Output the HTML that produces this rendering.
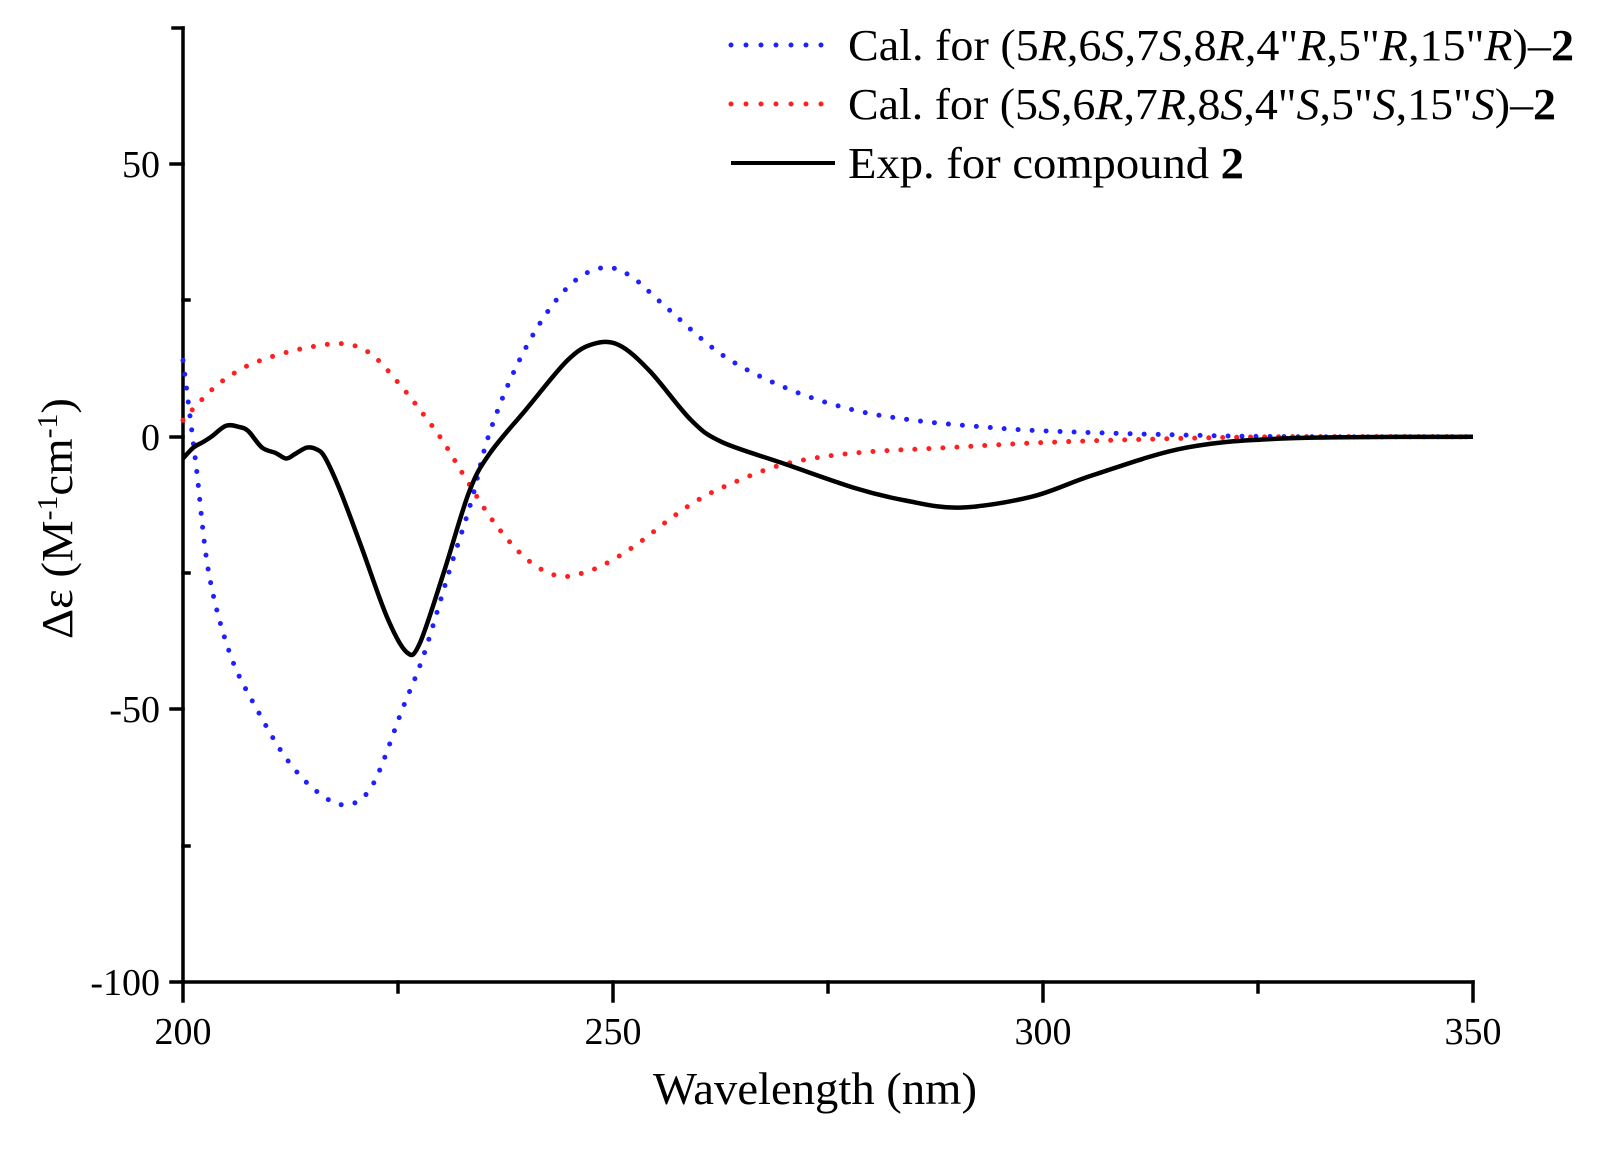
<!DOCTYPE html>
<html><head><meta charset="utf-8"><style>
html,body{margin:0;padding:0;background:#fff;}
svg text{font-family:"Liberation Serif",serif;fill:#000;}
</style></head><body>
<svg id="s" width="1618" height="1154" viewBox="0 0 1618 1154" xmlns="http://www.w3.org/2000/svg">
<g stroke="#000" stroke-width="3.5" fill="none" stroke-linecap="square">
<line x1="183" y1="28" x2="183" y2="982"/>
<line x1="183" y1="982" x2="1473" y2="982"/>
<line x1="173" y1="28" x2="183" y2="28"/>
<line x1="171" y1="164" x2="183" y2="164"/>
<line x1="171" y1="437" x2="183" y2="437"/>
<line x1="171" y1="709" x2="183" y2="709"/>
<line x1="171" y1="982" x2="183" y2="982"/>
<line x1="183" y1="300" x2="189" y2="300"/>
<line x1="183" y1="573" x2="189" y2="573"/>
<line x1="183" y1="846" x2="189" y2="846"/>
<line x1="183" y1="982" x2="183" y2="1001"/>
<line x1="613" y1="982" x2="613" y2="1001"/>
<line x1="1043" y1="982" x2="1043" y2="1001"/>
<line x1="1473" y1="982" x2="1473" y2="1001"/>
<line x1="398" y1="982" x2="398" y2="992"/>
<line x1="828" y1="982" x2="828" y2="992"/>
<line x1="1258" y1="982" x2="1258" y2="992"/>
</g>
<g font-size="38" text-anchor="end">
<text x="160" y="177">50</text>
<text x="160" y="450">0</text>
<text x="160" y="722">-50</text>
<text x="160" y="995">-100</text>
</g>
<g font-size="38" text-anchor="middle">
<text x="183" y="1044">200</text>
<text x="613" y="1044">250</text>
<text x="1043" y="1044">300</text>
<text x="1473" y="1044">350</text>
</g>
<text x="653" y="1104" font-size="46" textLength="324" lengthAdjust="spacingAndGlyphs">Wavelength (nm)</text>
<text transform="translate(72,639) rotate(-90)" font-size="44" textLength="241" lengthAdjust="spacingAndGlyphs">Δε (M<tspan font-size="28" dy="-15">-1</tspan><tspan dy="15">cm</tspan><tspan font-size="28" dy="-15">-1</tspan><tspan dy="15">)</tspan></text>
<g id="curves"></g>
<g font-size="44">
<line x1="731" y1="45" x2="822" y2="45" stroke="#1f1fff" stroke-width="5" stroke-linecap="round" stroke-dasharray="0 15"/>
<line x1="731" y1="104" x2="822" y2="104" stroke="#ff1f1f" stroke-width="5" stroke-linecap="round" stroke-dasharray="0 15"/>
<line x1="731" y1="163" x2="835" y2="163" stroke="#000" stroke-width="4"/>
<text x="848" y="60" textLength="726" lengthAdjust="spacingAndGlyphs">Cal. for (5<tspan font-style="italic">R</tspan>,6<tspan font-style="italic">S</tspan>,7<tspan font-style="italic">S</tspan>,8<tspan font-style="italic">R</tspan>,4"<tspan font-style="italic">R</tspan>,5"<tspan font-style="italic">R</tspan>,15"<tspan font-style="italic">R</tspan>)–<tspan font-weight="bold">2</tspan></text>
<text x="848" y="119" textLength="708" lengthAdjust="spacingAndGlyphs">Cal. for (5<tspan font-style="italic">S</tspan>,6<tspan font-style="italic">R</tspan>,7<tspan font-style="italic">R</tspan>,8<tspan font-style="italic">S</tspan>,4"<tspan font-style="italic">S</tspan>,5"<tspan font-style="italic">S</tspan>,15"<tspan font-style="italic">S</tspan>)–<tspan font-weight="bold">2</tspan></text>
<text x="848" y="178" textLength="396" lengthAdjust="spacingAndGlyphs">Exp. for compound <tspan font-weight="bold">2</tspan></text>
</g>
</svg>
<script>
function X(n){return 183+(n-200)*8.6;}
function Y(v){return 436.7-v*5.453;}
function path(pts){
  var p=pts.map(function(a){return [X(a[0]),Y(a[1])];});
  var d="M"+p[0][0].toFixed(1)+","+p[0][1].toFixed(1);
  for(var i=0;i<p.length-1;i++){
    var p0=p[i-1]||p[i],p1=p[i],p2=p[i+1],p3=p[i+2]||p2;
    var c1=[p1[0]+(p2[0]-p0[0])/6,p1[1]+(p2[1]-p0[1])/6];
    var c2=[p2[0]-(p3[0]-p1[0])/6,p2[1]-(p3[1]-p1[1])/6];
    d+="C"+c1[0].toFixed(1)+","+c1[1].toFixed(1)+" "+c2[0].toFixed(1)+","+c2[1].toFixed(1)+" "+p2[0].toFixed(1)+","+p2[1].toFixed(1);
  }
  return d;
}
var blue=[[200,14],[201.5,-5],[203,-25],[205.5,-40],[208.6,-50],[212,-59],[215.5,-65],[218.9,-67.5],[222,-64],[225.5,-50],[228,-40],[230.9,-25],[233.5,-12],[235.5,0],[238.5,12],[242,22],[245.5,28.5],[248.9,31],[252,29.5],[256,24],[262.7,15],[270,9],[277.7,5],[285,3],[293,1.8],[301,1],[316.7,0.3],[328.7,0],[350,0]];
var red=[[200,3],[202,6.5],[204.4,10],[207.5,13],[211,15],[215,16.5],[218.9,17],[222,15],[225.5,9],[228,4],[230.3,-1],[233,-8],[236.3,-16],[240,-22.5],[243.5,-25.5],[246.5,-25],[249.5,-23],[253,-19.5],[256.7,-15],[260,-11.5],[263.9,-8.5],[270,-5],[278,-3],[289,-2],[301,-1],[316.7,-0.3],[328.7,0],[350,0]];
var blk=[[200,-4],[201.2,-2],[202.3,-1],[203.3,0],[205,2],[206.5,1.8],[207.6,1],[209.2,-2],[210.8,-3],[212,-4],[213,-3.2],[214.4,-2],[215.5,-2.3],[216.5,-3.8],[218.3,-10],[220.7,-20],[223.7,-33],[226,-39.5],[227.5,-38],[230.3,-25],[233.3,-10],[235.7,-3],[239.9,5],[244.7,14],[247.7,17],[250.7,16.8],[254.3,12],[259.1,3],[262.7,-1],[270,-5],[278.3,-9.5],[284,-11.7],[290.3,-13],[298.7,-11],[305.9,-7],[316.7,-2],[328.7,-0.3],[350,0]];
var g=document.getElementById("curves"),ns="http://www.w3.org/2000/svg";
[[blue,"#1f1fff",1],[red,"#ff1f1f",1],[blk,"#000",0]].forEach(function(c){
  var e=document.createElementNS(ns,"path");
  e.setAttribute("d",path(c[0]));e.setAttribute("fill","none");e.setAttribute("stroke",c[1]);
  if(c[2]){e.setAttribute("stroke-width","5");e.setAttribute("stroke-linecap","round");e.setAttribute("stroke-dasharray","0 14");}
  else{e.setAttribute("stroke-width","4.5");e.setAttribute("stroke-linejoin","round");}
  g.appendChild(e);
});
</script>
</body></html>
